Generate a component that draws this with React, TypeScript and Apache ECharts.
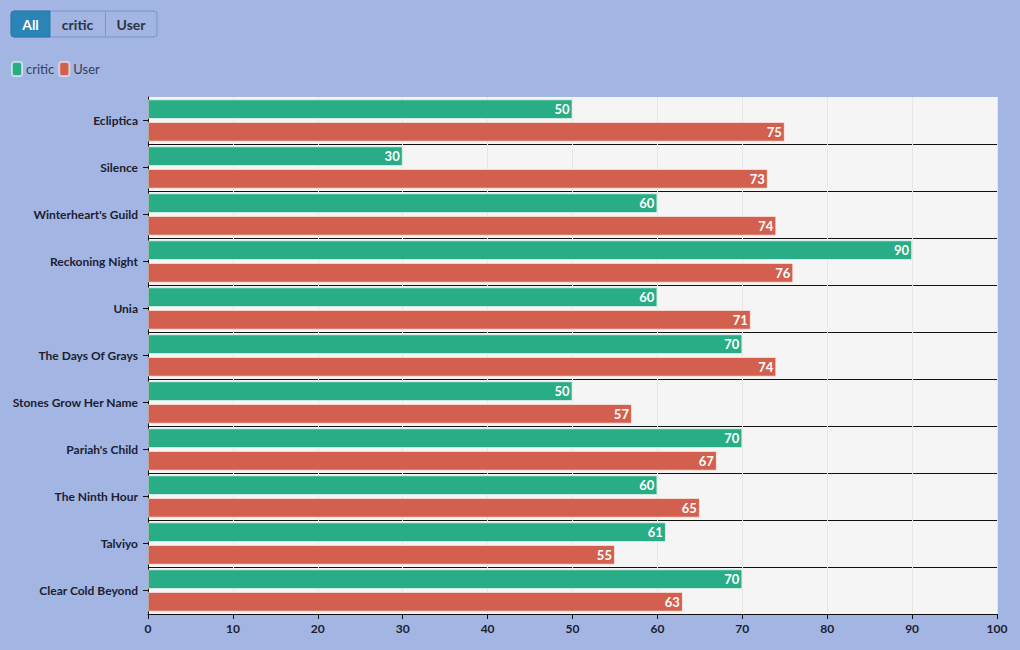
import React, { useEffect, useRef } from "react";
import * as echarts from "echarts";

const categories = [
  "Ecliptica",
  "Silence",
  "Winterheart's Guild",
  "Reckoning Night",
  "Unia",
  "The Days Of Grays",
  "Stones Grow Her Name",
  "Pariah's Child",
  "The Ninth Hour",
  "Talviyo",
  "Clear Cold Beyond",
];
const criticValues = [50, 30, 60, 90, 60, 70, 50, 70, 60, 61, 70];
const userValues = [75, 73, 74, 76, 71, 74, 57, 67, 65, 55, 63];
const buttonLabels = ["All", "critic", "User"];

const FONT = "Lato, 'Noto Sans', sans-serif";

export default function App() {
  const ref = useRef<HTMLDivElement>(null);
  useEffect(() => {
    if (!ref.current) return;
    const chart = echarts.init(ref.current, null, { renderer: "svg" });
    const btnX = [11, 50, 105];
    const btnW = [39, 55, 52];
    const buttons: any[] = [
      {
        type: "rect",
        shape: { x: 11, y: 11, width: 146, height: 26, r: 3 },
        style: { fill: "transparent", stroke: "#7f94c6", lineWidth: 1 },
      },
      {
        type: "rect",
        shape: { x: 11, y: 11, width: 39, height: 26, r: [3, 0, 0, 3] },
        style: { fill: "#2b84b6", stroke: "#2b78a8", lineWidth: 1 },
      },
      {
        type: "line",
        shape: { x1: 105.5, y1: 11, x2: 105.5, y2: 37 },
        style: { stroke: "#7f94c6", lineWidth: 1 },
      },
    ];
    buttonLabels.forEach((t, i) => {
      buttons.push({
        type: "text",
        x: btnX[i] + btnW[i] / 2,
        y: 24,
        style: {
          text: t,
          fill: i === 0 ? "#ffffff" : "#2e3340",
          font: `bold 14px ${FONT}`,
          align: "center",
          verticalAlign: "middle",
        },
      });
    });

    const labelCfg = {
      show: true,
      position: "insideRight",
      color: "#fff",
      fontWeight: "bold",
      fontSize: 13,
      fontFamily: FONT,
      offset: [2, 0],
    };

    chart.setOption({
      animation: false,
      backgroundColor: "#a2b5e3",
      textStyle: { fontFamily: FONT },
      graphic: buttons,
      legend: {
        left: 6,
        top: 56,
        icon: "roundRect",
        itemWidth: 10,
        itemHeight: 14,
        itemGap: 4,
        textStyle: { color: "#3a3f55", fontSize: 13, fontFamily: FONT, padding: [0, 0, 0, -1] },
        data: ["critic", "User"],
      },
      grid: {
        left: 148,
        right: 23,
        top: 97,
        bottom: 36,
        show: true,
        backgroundColor: "#f5f5f5",
        borderWidth: 0,
      },
      xAxis: {
        type: "value",
        min: 0,
        max: 100,
        interval: 10,
        axisLine: { show: true, lineStyle: { color: "#111", width: 1 } },
        axisTick: { show: true, length: 5, lineStyle: { color: "#111" } },
        axisLabel: { color: "#1c2030", fontWeight: "bold", fontSize: 12, margin: 8, fontFamily: FONT },
        splitLine: { show: true, lineStyle: { color: "#e6e6e6", width: 1 } },
      },
      yAxis: {
        type: "category",
        data: categories,
        inverse: true,
        axisLine: { show: true, lineStyle: { color: "#111", width: 1 } },
        axisTick: { show: true, alignWithLabel: true, length: 5, lineStyle: { color: "#111" } },
        axisLabel: { color: "#1c2030", fontWeight: "bold", fontSize: 12, margin: 10, fontFamily: FONT },
        splitLine: { show: true, showMinLine: false, lineStyle: { color: "#111", width: 1 } },
      },
      series: [
        {
          name: "critic",
          type: "bar",
          data: criticValues,
          barGap: "15%",
          barCategoryGap: "10%",
          itemStyle: { color: "#29ad86", borderColor: "rgba(255,255,255,0.55)", borderWidth: 1 },
          label: labelCfg,
        },
        {
          name: "User",
          type: "bar",
          data: userValues,
          barGap: "15%",
          barCategoryGap: "10%",
          itemStyle: { color: "#d3604e", borderColor: "rgba(255,255,255,0.55)", borderWidth: 1 },
          label: labelCfg,
        },
      ],
    });
    return () => chart.dispose();
  }, []);
  return <div ref={ref} style={{ width: 1020, height: 650, position: "absolute", left: 0, top: 0 }} />;
}
